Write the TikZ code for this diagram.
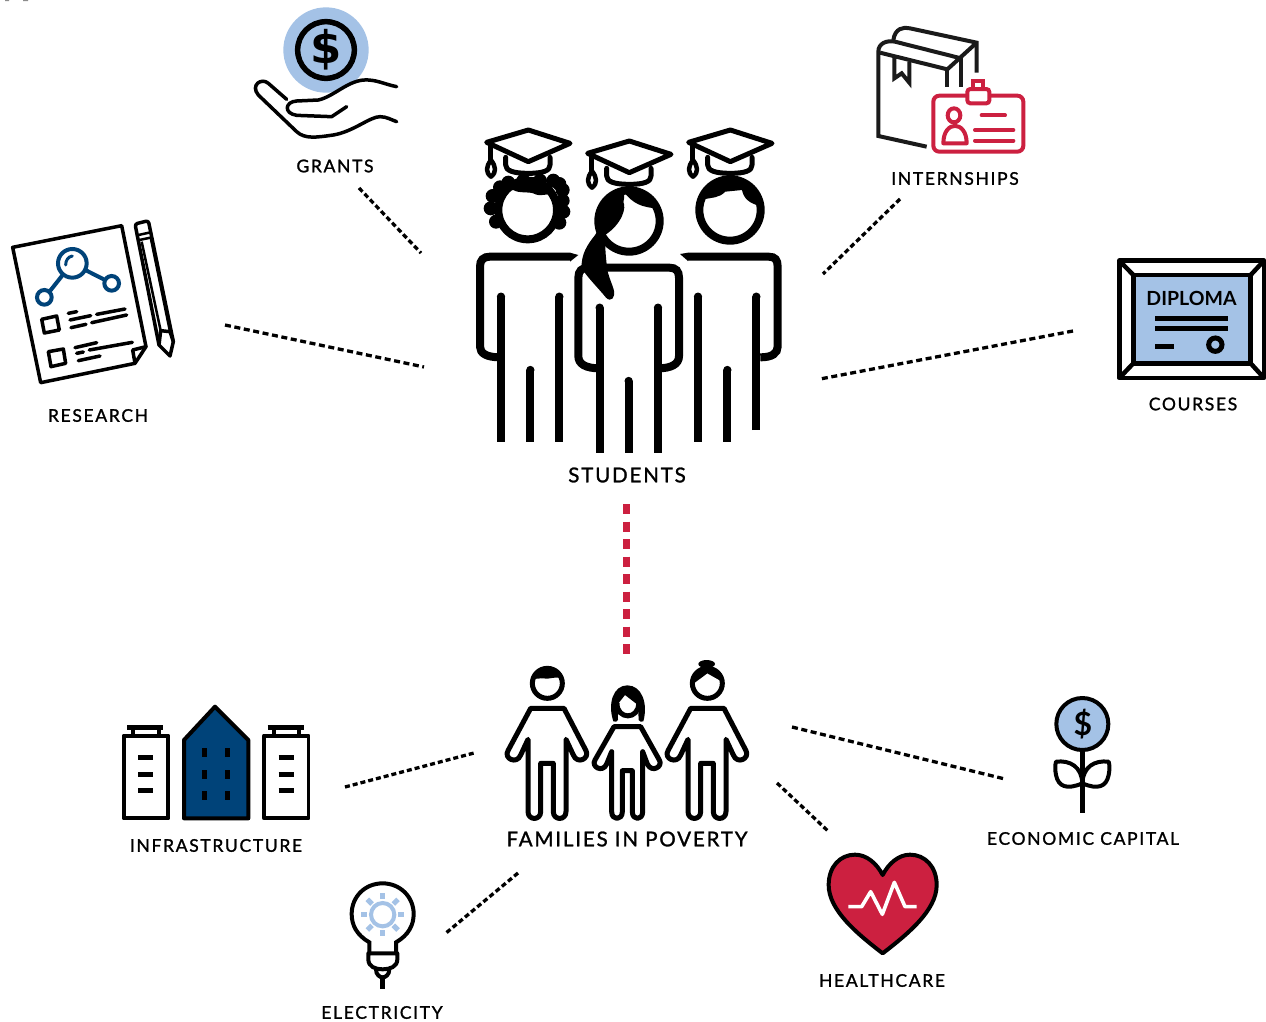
\documentclass[tikz,border=0pt]{standalone}
\usepackage{fontspec}
\setmainfont{Lato}
\newfontfamily\labfont[LetterSpace=9.5,FakeBold=1.3]{Lato}
\newfontfamily\biglabfont[LetterSpace=9,FakeBold=1.3]{Lato}
\newfontfamily\dollarfont{DejaVu Sans}
\definecolor{skyb}{HTML}{A4C2E6}
\definecolor{navyb}{HTML}{004379}
\definecolor{crim}{HTML}{CC2040}
\definecolor{inkk}{HTML}{1A1A1A}
\tikzset{
  lab/.style={font=\labfont\fontsize{17.5}{20}\selectfont,text=black,inner sep=0pt},
  biglab/.style={font=\biglabfont\fontsize{20.5}{23}\selectfont,text=black,inner sep=0pt},
  link/.style={line width=3.3pt,dash pattern=on 5pt off 3pt,black},
  linklong/.style={line width=3.3pt,dash pattern=on 6pt off 3.6pt,black},
  redlink/.style={line width=7pt,dash pattern=on 10pt off 7.5pt,crim},
  zm/.style={scale=0.33333},
  limb/.style={line width=8pt,line cap=round,black},
  cutlimb/.style={line width=8pt,black},
  thick4/.style={line width=4pt,line cap=round,line join=round},
  thin35/.style={line width=3.5pt,line cap=round,line join=round},
  fam/.style={line width=5pt,line join=round,draw=black,fill=white},
}
\newcommand{\gradcap}{%
  \draw[thick4,line width=5pt,fill=white] (205,60)--(330,100)--(205,155)--(80,97)--cycle;
  \draw[thick4,line width=5pt] (137,142)--(137,165) .. controls (137,182) and (160,190) .. (205,190) .. controls (250,190) and (270,182) .. (270,165)--(270,142);
  \draw[thick4,line width=4.5pt] (91,100)--(91,150);
  \draw[line width=4.5pt,fill=white,line join=round] (93,150) .. controls (78,170) and (76,187) .. (93,200) .. controls (110,187) and (108,170) .. (93,150)--cycle;
}
\newcommand{\leg}[3]{%
  \draw[cutlimb] (#1,#2)--(#1,#3);
  \fill (#1,#3) circle[radius=12.5];
}
\newcommand{\adultbody}{%
  \draw[fam] (122,175)--(222,175)--(288,302) .. controls (300,325) and (262,345) .. (250,315)--(228,268)--(228,485) .. controls (228,512) and (190,512) .. (190,485)--(190,340)--(152,340)--(152,485) .. controls (152,512) and (114,512) .. (114,485)--(114,268)--(92,315) .. controls (80,345) and (40,325) .. (54,302)--cycle;
}
\begin{document}
\begin{tikzpicture}[x=1pt,y=-1pt]
\useasboundingbox (0,0) rectangle (1266,1021);
\fill[white] (0,0) rectangle (1266,1021);
\fill[black!45] (5,0) rectangle (9,1) (23,0) rectangle (28,1);

%% ---------- STUDENTS ----------
\begin{scope}[shift={(460,110)},zm]
  % left student
  \foreach \c/\r in {120/232,98/258,92/295,108/335,298/222,308/240,308/272,310/305,298/338,145/218,190/212,240/212,280/212}{\fill (\c,\r) circle[radius=21];}
  \fill[white,draw=black,line width=8pt] (203,300) circle[radius=88];
  \begin{scope}
    \clip (203,300) circle[radius=88];
    \fill (110,240)--(160,240) .. controls (175,250) and (205,245) .. (220,250) .. controls (240,262) and (260,250) .. (300,250)--(300,200)--(110,200)--cycle;
  \end{scope}
  \gradcap
  \draw[limb,line cap=butt] (330,440)--(90,440) .. controls (70,440) and (60,450) .. (60,470)--(60,710) .. controls (60,730) and (80,742) .. (120,742);
  \fill (330,428)--(355,435)--(330,455)--cycle;
  \leg{123}{995}{560}
  \leg{211}{995}{780}
  \leg{298}{995}{560}
  % right student
  \begin{scope}[shift={(606,0)}]
    \fill[white,draw=black,line width=8pt] (204,300) circle[radius=92];
    \begin{scope}
      \clip (204,300) circle[radius=92];
      \fill (125,268) .. controls (150,262) and (170,265) .. (190,245)--(240,240) .. controls (245,265) and (260,280) .. (300,290)--(300,200)--(110,200)--cycle;
    \end{scope}
    \gradcap
    \draw[limb,line cap=butt] (78,440)--(320,440) .. controls (340,440) and (347,450) .. (347,470)--(347,710) .. controls (347,730) and (330,742) .. (295,742);
    \fill (78,428)--(54,432)--(78,453)--cycle;
    \leg{108}{995}{560}
    \leg{196}{995}{780}
    \leg{283}{960}{560}
  \end{scope}
  % middle student
  \begin{scope}[shift={(303,33)}]
    \draw[line width=8pt,fill=white] (204,300) circle[radius=92];
    \begin{scope}
      \clip (204,300) circle[radius=96];
      \fill (190,215) .. controls (215,245) and (240,262) .. (300,262)--(320,200)--(100,200)--(90,340)--(130,330) .. controls (170,310) and (190,260) .. (190,215)--cycle;
    \end{scope}
    \fill[white] (52,470) rectangle (354,742);
    \fill[white] (80,440) rectangle (325,470);
    \draw[limb,line cap=butt] (116,742) .. controls (75,742) and (52,730) .. (52,705)--(52,470) .. controls (52,450) and (62,440) .. (82,440)--(325,440) .. controls (345,440) and (354,450) .. (354,470)--(354,705) .. controls (354,730) and (330,742) .. (291,742);
    \leg{116}{995}{560}
    \leg{203}{995}{780}
    \leg{291}{995}{560}
    \fill (185,240) .. controls (150,250) and (110,290) .. (110,330)--(100,345) .. controls (80,370) and (60,400) .. (62,440) .. controls (70,460) and (120,510) .. (135,530) .. controls (150,545) and (165,530) .. (158,505) .. controls (150,480) and (140,460) .. (138,440) .. controls (135,410) and (130,370) .. (135,340) .. controls (180,310) and (200,260) .. (185,240)--cycle;
    \gradcap
  \end{scope}
\end{scope}
\node[biglab] (students) at (627,475) {STUDENTS};

%% ---------- GRANTS ----------
\begin{scope}[zm]
  \fill[skyb] (978,150) circle[radius=128];
  \draw[line width=5.5pt] (978,150) circle[radius=85];
  \draw[thin35] (1190,260) .. controls (1150,252) and (1130,238) .. (1090,240) .. controls (1040,245) and (1000,290) .. (955,300)--(890,303) .. controls (855,305) and (850,340) .. (890,346)--(995,350)--(1040,320);
  \draw[thin35] (860,298)--(805,250) .. controls (785,232) and (750,255) .. (775,285)--(890,395) .. controls (915,418) and (950,412) .. (1000,405) .. controls (1060,395) and (1110,350) .. (1140,350) .. controls (1160,350) and (1175,360) .. (1190,365);
\end{scope}
\node[inner sep=0pt,font=\dollarfont\fontsize{45}{45}\selectfont\bfseries] (grantdollar) at (326,50) {\$};
\node[lab] (grants) at (335,166) {GRANTS};

%% ---------- RESEARCH ----------
\begin{scope}[zm]
  \draw[thin35,fill=white] (38,742)--(365,677)--(438,1040)--(405,1090)--(122,1148)--cycle;
  \draw[thin35] (438,1040)--(398,1050)--(405,1090);
  \begin{scope}[navyb,line width=4pt]
    \draw (217,790) circle[radius=43];
    \draw (133,892) circle[radius=22];
    \draw (335,850) circle[radius=22];
    \draw (188,825)--(150,873);
    \draw (256,810)--(315,840);
    \draw[line width=3pt,line cap=round] (197,795) .. controls (197,780) and (205,770) .. (217,768);
  \end{scope}
  \draw[thin35,line cap=butt] (125,958)--(170,948)--(178,990)--(133,999)--cycle;
  \draw[thin35,line cap=butt] (145,1055)--(190,1047)--(197,1090)--(153,1100)--cycle;
  \foreach \p/\q in {{205,940}/{230,935},{210,960}/{272,947},{290,943}/{375,927},{213,983}/{258,973},{275,968}/{380,945},{225,1043}/{290,1028},{230,1060}/{250,1056},{268,1050}/{397,1027},{235,1082}/{300,1068}}{\draw[thin35] (\p)--(\q);}
  \draw[thin35,rounded corners=2.5pt] (477,1035)--(405,672)--(445,662)--(520,1025);
  \draw[thin35] (477,1035)--(510,1068)--(520,1025)--(510,995)--(482,992)--cycle;
  \draw[line width=2.5pt] (415,705)--(452,697) (418,720)--(456,712);
  \draw[line width=2.5pt] (425,725)--(482,992) (452,712)--(510,995);
\end{scope}
\node[lab] (research) at (98,415.5) {RESEARCH};

%% ---------- INTERNSHIPS ----------
\begin{scope}[shift={(860,10)},zm]
  \begin{scope}[inkk,line width=4pt]
    \draw (200,410)--(55,378)--(55,125) .. controls (55,100) and (80,90) .. (105,95)--(303,145);
    \draw (60,128)--(262,178)--(350,98);
    \draw (100,90) .. controls (105,55) and (130,50) .. (150,55)--(350,98)--(350,188);
    \draw (262,178)--(262,232);
    \draw (303,145)--(303,232);
    \draw (103,140)--(103,205)--(125,190)--(148,218)--(148,155);
  \end{scope}
  \begin{scope}[crim,line width=4pt]
    \draw[rounded corners=6pt] (220,257) rectangle (490,425);
    \draw[rounded corners=3pt,fill=white] (322,237) rectangle (388,280);
    \draw (340,237)--(340,212)--(370,212)--(370,237);
    \draw (282,316) ellipse[x radius=19,y radius=21];
    \draw[line join=round] (250,400) .. controls (250,330) and (320,330) .. (320,400)--cycle;
    \draw[line cap=round] (365,316)--(435,316) (345,360)--(460,360) (345,392)--(460,392);
  \end{scope}
\end{scope}
\node[lab] (internships) at (955,178.5) {INTERNSHIPS};

%% ---------- COURSES ----------
\begin{scope}[shift={(860,10)},zm]
  \draw[line width=4.5pt,line join=round] (778,752) rectangle (1212,1104);
  \draw[line width=4.5pt,fill=skyb] (820,795) rectangle (1172,1060);
  \draw[line width=4.5pt] (778,752)--(820,795) (1212,752)--(1172,795) (778,1104)--(820,1060) (1212,1104)--(1172,1060);
  \draw[line width=5pt] (885,925)--(1105,925) (885,955)--(1105,955) (885,1010)--(942,1010);
  \draw[line width=5pt] (1066,1004) circle[radius=20];
\end{scope}
\node[inner sep=0pt,font=\fontsize{19.5}{20}\selectfont\bfseries] (diploma) at (1191.5,298.5) {DIPLOMA};
\node[lab] (courses) at (1193,404) {COURSES};

%% ---------- FAMILIES ----------
\begin{scope}[shift={(490,650)},zm]
  % father
  \adultbody
  \draw[line width=5pt,fill=white] (172,100) circle[radius=45];
  \begin{scope}
    \clip (172,100) circle[radius=45];
    \fill (125,82) .. controls (140,92) and (150,82) .. (160,85) .. controls (175,90) and (190,78) .. (220,85)--(220,50)--(125,50)--cycle;
  \end{scope}
  % mother
  \begin{scope}[shift={(480,0)}]
    \adultbody
    \fill (170,42) ellipse[x radius=25,y radius=12];
    \draw[line width=5pt,fill=white] (172,100) circle[radius=45];
    \begin{scope}
      \clip (172,100) circle[radius=45];
      \fill (125,105)--(172,70)--(225,100)--(225,50)--(125,50)--cycle;
    \end{scope}
  \end{scope}
  % child
  \draw[fam] (372,230)--(452,230)--(508,330) .. controls (520,350) and (485,370) .. (472,342)--(458,305)--(458,485) .. controls (458,512) and (427,512) .. (427,485)--(427,362)--(397,362)--(397,485) .. controls (397,512) and (365,512) .. (365,485)--(365,305)--(350,342) .. controls (338,370) and (302,350) .. (315,330)--cycle;
  \fill (370,214) .. controls (352,160) and (370,106) .. (412,106) .. controls (455,106) and (475,160) .. (460,214) .. controls (455,216) and (448,216) .. (446,210)--(444,165)--(405,135)--(383,163)--(384,210) .. controls (382,216) and (375,216) .. (370,214)--cycle;
  \draw[line width=5pt] (381,160) .. controls (381,210) and (446,210) .. (446,160);
\end{scope}
\node[biglab] (families) at (627,839) {FAMILIES IN POVERTY};

%% ---------- INFRASTRUCTURE ----------
\begin{scope}[shift={(110,690)},zm]
  \foreach \d in {0,420.5}{
    \begin{scope}[shift={(\d,0)}]
      \draw[line width=3.8pt,line join=round,fill=white] (41,137) rectangle (175,385);
      \draw[line width=5pt] (52,113)--(160,113);
      \draw[line width=4pt] (70,113)--(70,137) (147,113)--(147,137);
      \draw[line width=5pt] (85,202)--(130,202) (85,253)--(130,253) (85,301)--(130,301);
    \end{scope}
  }
  \draw[line width=4pt,line join=round,fill=navyb] (222,150)--(315,50)--(415,150)--(415,385)--(222,385)--cycle;
  \foreach \xw in {284,353}{\foreach \yw in {187,253,316}{\fill (\xw-7.5,\yw-13.5) rectangle (\xw+7.5,\yw+13.5);}}
\end{scope}
\node[lab] (infra) at (216,845.5) {INFRASTRUCTURE};

%% ---------- ELECTRICITY ----------
\begin{scope}[shift={(110,690)},zm]
  \draw[line width=4pt] (778,790)--(778,757) .. controls (740,735) and (725,705) .. (725,672) .. controls (725,620) and (765,580) .. (818,580) .. controls (870,580) and (911,620) .. (911,672) .. controls (911,705) and (896,735) .. (858,757)--(858,790);
  \draw[line width=4pt,line join=round] (775,790)--(862,790)--(862,808) .. controls (862,830) and (840,838) .. (818,838) .. controls (796,838) and (775,830) .. (775,808)--cycle;
  \draw[line width=4pt] (798,838) .. controls (798,855) and (810,862) .. (818,862) .. controls (826,862) and (838,855) .. (838,838);
  \draw[line width=5pt] (818,862)--(818,898);
  \begin{scope}[skyb,line width=4pt]
    \draw (818,674) circle[radius=35];
  \end{scope}
  \begin{scope}[skyb,line width=5pt]
    \draw (818,610)--(818,628) (818,720)--(818,738) (753,674)--(772,674) (865,674)--(882,674);
    \draw (772,628)--(786,642) (864,628)--(850,642) (772,720)--(786,706) (864,720)--(850,706);
  \end{scope}
\end{scope}
\node[lab] (electricity) at (382,1012.5) {ELECTRICITY};

%% ---------- HEALTHCARE ----------
\begin{scope}[shift={(810,680)},zm]
  \draw[line width=4pt,line join=round,fill=crim] (218,820) .. controls (140,760) and (56,690) .. (56,615) .. controls (56,560) and (90,524) .. (135,524) .. controls (170,524) and (200,550) .. (218,585) .. controls (236,550) and (266,524) .. (300,524) .. controls (345,524) and (380,560) .. (380,615) .. controls (380,690) and (296,760) .. (218,820)--cycle;
  \draw[white,line width=3.6pt,line join=round] (115,680)--(155,680)--(182,635)--(217,703)--(253,607)--(285,680)--(320,680);
\end{scope}
\node[lab] (healthcare) at (882,980.5) {HEALTHCARE};

%% ---------- ECONOMIC CAPITAL ----------
\begin{scope}[shift={(810,680)},zm]
  \draw[line width=5pt] (817,210)--(817,398);
  \draw[line width=4pt,fill=skyb] (817,132) circle[radius=78];
  \draw[line width=4pt,line join=round] (817,310) .. controls (770,330) and (745,320) .. (738,285) .. controls (735,270) and (735,255) .. (738,245) .. controls (780,240) and (815,260) .. (817,310)--cycle;
  \draw[line width=4pt,line join=round] (817,310) .. controls (864,330) and (889,320) .. (896,285) .. controls (899,270) and (899,255) .. (896,245) .. controls (854,240) and (819,260) .. (817,310)--cycle;
\end{scope}
\node[inner sep=0pt,font=\fontsize{32}{32}\selectfont\bfseries] (flowerdollar) at (1083,724.5) {\$};
\node[lab] (economic) at (1083,838.5) {ECONOMIC CAPITAL};

%% ---------- CONNECTORS ----------
\coordinate (gA) at (359,188); \coordinate (gB) at (421,253);
\coordinate (rA) at (225,325); \coordinate (rB) at (424,367);
\coordinate (iA) at (900,199); \coordinate (iB) at (823,274);
\coordinate (cA) at (1073,331); \coordinate (cB) at (820,379);
\coordinate (sA) at (626.5,504); \coordinate (sB) at (626.5,654);
\coordinate (nA) at (345,787); \coordinate (nB) at (474,753);
\coordinate (eA) at (518,873); \coordinate (eB) at (446,933);
\coordinate (hA) at (777,783); \coordinate (hB) at (828,831);
\coordinate (mA) at (792,727); \coordinate (mB) at (1005,779);
\draw[link] (gA)--(gB);
\draw[linklong] (rA)--(rB);
\draw[link] (iA)--(iB);
\draw[linklong] (cA)--(cB);
\draw[redlink] (sA)--(sB);
\draw[link] (nA)--(nB);
\draw[link] (eA)--(eB);
\draw[link] (hA)--(hB);
\draw[linklong] (mA)--(mB);
\end{tikzpicture}
\end{document}
